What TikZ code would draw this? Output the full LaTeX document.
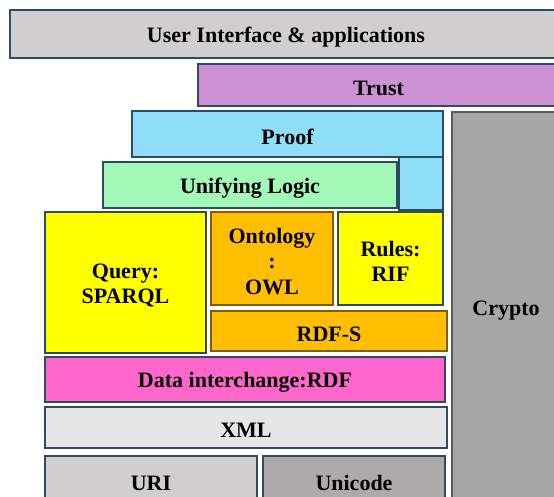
\documentclass[tikz,border=0pt]{standalone}
\usepackage{fontspec}
\setmainfont{Liberation Serif}
\definecolor{bordc}{HTML}{2E4B66}
\definecolor{uic}{HTML}{D0CECE}
\definecolor{trustc}{HTML}{CD92D5}
\definecolor{proofc}{HTML}{8EDEF9}
\definecolor{logicc}{HTML}{A3F8B7}
\definecolor{yelc}{HTML}{FFFF00}
\definecolor{orc}{HTML}{FFBF00}
\definecolor{orbord}{HTML}{7F6000}
\definecolor{pinkc}{HTML}{FF66CC}
\definecolor{xmlc}{HTML}{E6E6E6}
\definecolor{unic}{HTML}{AEAAAA}
\definecolor{cryc}{HTML}{A6A6A6}
\definecolor{crybord}{HTML}{5A5A5A}
\begin{document}
\begin{tikzpicture}[x=1pt,y=-1pt,
  txt/.style={inner sep=0pt, align=center, yshift=-3pt,
    font=\fontsize{22}{25.5}\selectfont\bfseries},
  layer/.style={draw=bordc, line width=1.5pt, inner sep=0pt, outer sep=0pt},
  orlayer/.style={layer, draw=orbord, fill=orc}]
\path[use as bounding box] (0,0) rectangle (554,496);
\clip (0,0) rectangle (554,496);
\fill[white] (0,0) rectangle (554,496);
\node[layer, fill=uic, minimum width=552pt, minimum height=48pt,
  label={[txt]center:User Interface \& applications}] (ui) at (286,34) {};
\node[layer, fill=trustc, minimum width=361pt, minimum height=42pt,
  label={[txt]center:Trust}] (trust) at (378.5,85) {};
\node[layer, fill=proofc, minimum width=311pt, minimum height=46pt,
  label={[txt]center:Proof}] (proof) at (287.5,134) {};
\node[layer, draw=crybord, fill=cryc, minimum width=108pt, minimum height=392pt,
  label={[txt]center:Crypto}] (crypto) at (506,308) {};
\node[layer, fill=logicc, minimum width=294pt, minimum height=46pt,
  label={[txt]center:Unifying Logic}] (logic) at (250,185) {};
\node[layer, fill=proofc, minimum width=44pt, minimum height=53pt] (proofext) at (421,183.5) {};
\node[layer, fill=yelc, minimum width=161pt, minimum height=141pt,
  label={[txt]center:{Query:\\SPARQL}}] (query) at (125.5,282.5) {};
\node[orlayer, minimum width=122pt, minimum height=93pt,
  label={[txt]center:{Ontology\\:\\OWL}}] (owl) at (272,258.5) {};
\node[layer, fill=yelc, minimum width=105pt, minimum height=93pt,
  label={[txt]center:{Rules:\\RIF}}] (rif) at (390.5,258.5) {};
\node[orlayer, minimum width=236pt, minimum height=40pt,
  label={[txt]center:RDF-S}] (rdfs) at (329,331) {};
\node[layer, fill=pinkc, minimum width=400pt, minimum height=45pt,
  label={[txt]center:Data interchange:RDF}] (rdf) at (245,379.5) {};
\node[layer, fill=xmlc, minimum width=402pt, minimum height=41pt,
  label={[txt]center:XML}] (xml) at (246,427.5) {};
\node[layer, fill=uic, minimum width=212pt, minimum height=48pt,
  label={[txt]center:URI}] (uri) at (151,480) {};
\node[layer, fill=unic, minimum width=182pt, minimum height=48pt,
  label={[txt]center:Unicode}] (unicode) at (354,480) {};
\end{tikzpicture}
\end{document}
